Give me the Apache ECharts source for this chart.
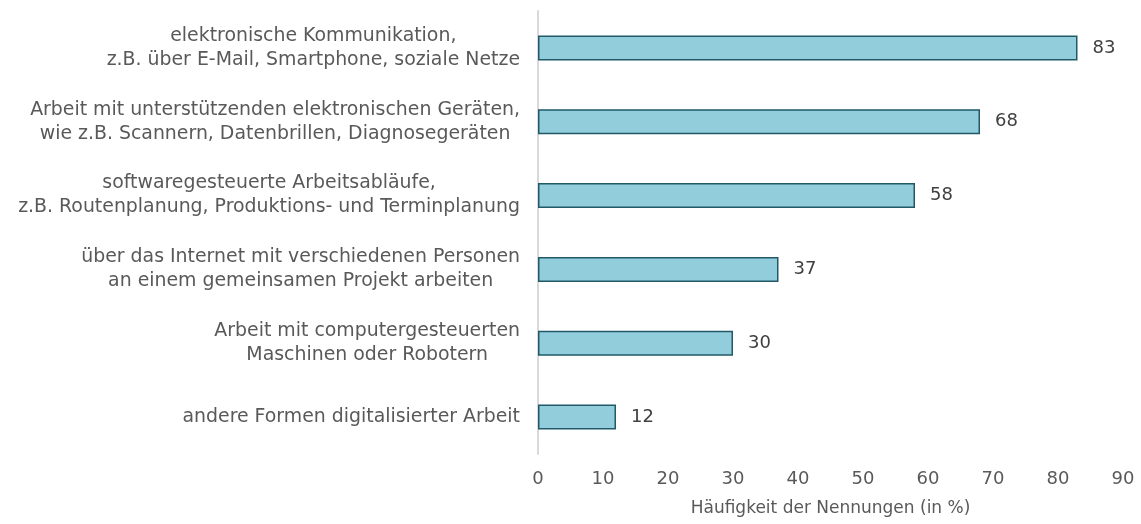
<!DOCTYPE html>
<html>
<head>
<meta charset="utf-8">
<script src="https://cdn.jsdelivr.net/npm/echarts@6/dist/echarts.min.js"></script>
<style>
  html, body { margin: 0; padding: 0; background: #fff; }
  #chart { width: 1141px; height: 524px; }
</style>
</head>
<body>
<div id="chart"></div>
<script>
// Kategorien (von oben nach unten)
var categories = [
  'elektronische Kommunikation,\nz.B. über E-Mail, Smartphone, soziale Netze',
  'Arbeit mit unterstützenden elektronischen Geräten,\nwie z.B. Scannern, Datenbrillen, Diagnosegeräten',
  'softwaregesteuerte Arbeitsabläufe,\nz.B. Routenplanung, Produktions- und Terminplanung',
  'über das Internet mit verschiedenen Personen\nan einem gemeinsamen Projekt arbeiten',
  'Arbeit mit computergesteuerten\nMaschinen oder Robotern',
  'andere Formen digitalisierter Arbeit'
];
// Häufigkeit der Nennungen in %
var values = [83, 68, 58, 37, 30, 12];
var axisName = 'Häufigkeit der Nennungen (in %)';

var textColor = '#595959';
var fontFamily = '"DejaVu Sans", sans-serif';

var myChart = echarts.init(document.getElementById('chart'));
var option = {
  animation: false,
  grid: { left: 538, right: 18, top: 11, bottom: 70 },
  xAxis: {
    type: 'value',
    min: 0,
    max: 90,
    interval: 10,
    name: axisName,
    nameLocation: 'middle',
    nameGap: 46,
    nameTextStyle: { color: textColor, fontSize: 17, fontFamily: fontFamily },
    axisLine: { show: false },
    axisTick: { show: false },
    splitLine: { show: false },
    axisLabel: { color: textColor, fontSize: 18, fontFamily: fontFamily, margin: 16 }
  },
  yAxis: {
    type: 'category',
    inverse: true,
    data: categories,
    axisLine: { show: true, lineStyle: { color: '#d9d9d9', width: 2 } },
    axisTick: { show: false },
    axisLabel: {
      margin: 18,
      align: 'right',
      // mehrzeilige Beschriftungen zentriert untereinander
      formatter: function (v) {
        return v.split('\n').map(function (s) { return '{a|' + s + '}'; }).join('\n');
      },
      rich: {
        a: { align: 'center', color: textColor, fontSize: 18.9, lineHeight: 24, fontFamily: fontFamily }
      }
    }
  },
  series: [{
    type: 'bar',
    data: values,
    barWidth: 25,
    itemStyle: { color: '#92cddc', borderColor: '#215968', borderWidth: 1.5 },
    label: {
      show: true,
      position: 'right',
      distance: 15,
      color: '#404040',
      fontSize: 18,
      fontFamily: fontFamily
    }
  }]
};
myChart.setOption(option);
</script>
</body>
</html>
